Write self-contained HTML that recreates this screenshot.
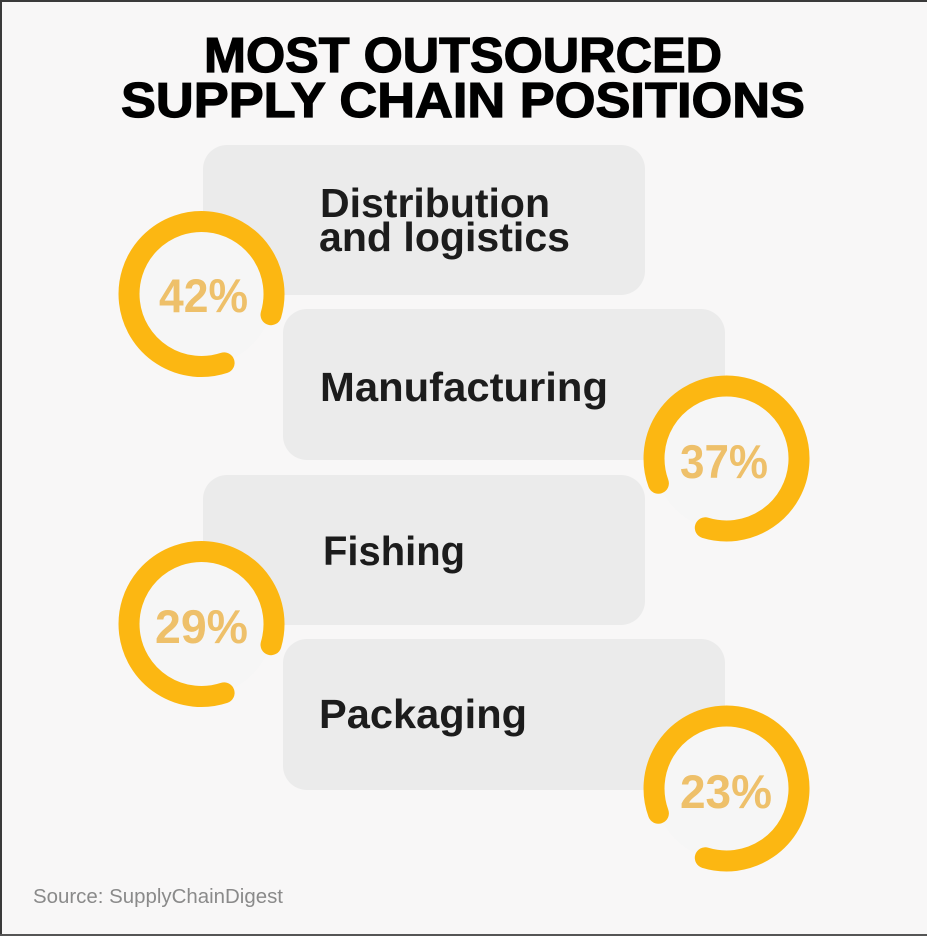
<!DOCTYPE html>
<html>
<head>
<meta charset="utf-8">
<style>
  html,body{margin:0;padding:0;background:#f8f7f7;}
  body{width:927px;height:936px;overflow:hidden;}
  svg{display:block;}
</style>
</head>
<body>
<svg width="927" height="936" viewBox="0 0 927 936" xmlns="http://www.w3.org/2000/svg">
  <rect x="0" y="0" width="927" height="936" fill="#f8f7f7"/>
  <!-- frame -->
  <rect x="0" y="0" width="927" height="2" fill="#3a3a3a"/>
  <rect x="0" y="0" width="2" height="936" fill="#3a3a3a"/>
  <rect x="0" y="934" width="927" height="2" fill="#555"/>

  <!-- title -->
  <g font-family="'Liberation Sans', Arial, sans-serif" font-weight="bold" fill="#000" stroke="#000" stroke-width="1.2">
    <text x="204" y="72" font-size="49" textLength="518" lengthAdjust="spacingAndGlyphs">MOST OUTSOURCED</text>
    <text x="121" y="117" font-size="49" textLength="684" lengthAdjust="spacingAndGlyphs">SUPPLY CHAIN POSITIONS</text>
  </g>

  <!-- cards -->
  <g fill="#ebebeb">
    <rect x="203" y="145" width="442" height="150" rx="24" ry="24"/>
    <rect x="283" y="309" width="442" height="151" rx="24" ry="24"/>
    <rect x="203" y="475" width="442" height="150" rx="24" ry="24"/>
    <rect x="283" y="639" width="442" height="151" rx="24" ry="24"/>
  </g>

  <!-- card labels -->
  <g font-family="'Liberation Sans', Arial, sans-serif" font-weight="bold" fill="#1c1c1c" font-size="41">
    <text x="320" y="217" textLength="230" lengthAdjust="spacingAndGlyphs">Distribution</text>
    <text x="319" y="251" textLength="251" lengthAdjust="spacingAndGlyphs">and logistics</text>
    <text x="320" y="401" textLength="288" lengthAdjust="spacingAndGlyphs">Manufacturing</text>
    <text x="323" y="565" textLength="142" lengthAdjust="spacingAndGlyphs">Fishing</text>
    <text x="319" y="728" textLength="208" lengthAdjust="spacingAndGlyphs">Packaging</text>
  </g>

  <!-- rings -->
  <g fill="#f6f6f6">
    <circle cx="201.5" cy="293.5" r="72"/>
    <circle cx="726.5" cy="458.5" r="72"/>
    <circle cx="201.5" cy="623.5" r="72"/>
    <circle cx="726.5" cy="788.5" r="72"/>
  </g>
  <g fill="none" stroke="#fcb712" stroke-width="21" stroke-linecap="round">
    <path d="M224.1 362.9 A72.5 72.5 0 1 1 271.0 314.7"/>
    <path d="M658.4 483.3 A72.5 72.5 0 1 1 705.3 527.8"/>
    <path d="M224.1 692.9 A72.5 72.5 0 1 1 271.0 644.7"/>
    <path d="M658.4 813.3 A72.5 72.5 0 1 1 705.3 857.8"/>
  </g>

  <!-- percentages -->
  <g font-family="'Liberation Sans', Arial, sans-serif" font-weight="bold" fill="#eec06a" font-size="47">
    <text x="159" y="312" textLength="89" lengthAdjust="spacingAndGlyphs">42%</text>
    <text x="680" y="478" textLength="88" lengthAdjust="spacingAndGlyphs">37%</text>
    <text x="155" y="643" textLength="93" lengthAdjust="spacingAndGlyphs">29%</text>
    <text x="680" y="808" textLength="92" lengthAdjust="spacingAndGlyphs">23%</text>
  </g>

  <!-- source -->
  <text x="33" y="903" font-family="'Liberation Sans', Arial, sans-serif" font-size="20" fill="#8a8a8a" textLength="250" lengthAdjust="spacingAndGlyphs">Source: SupplyChainDigest</text>
</svg>
</body>
</html>
